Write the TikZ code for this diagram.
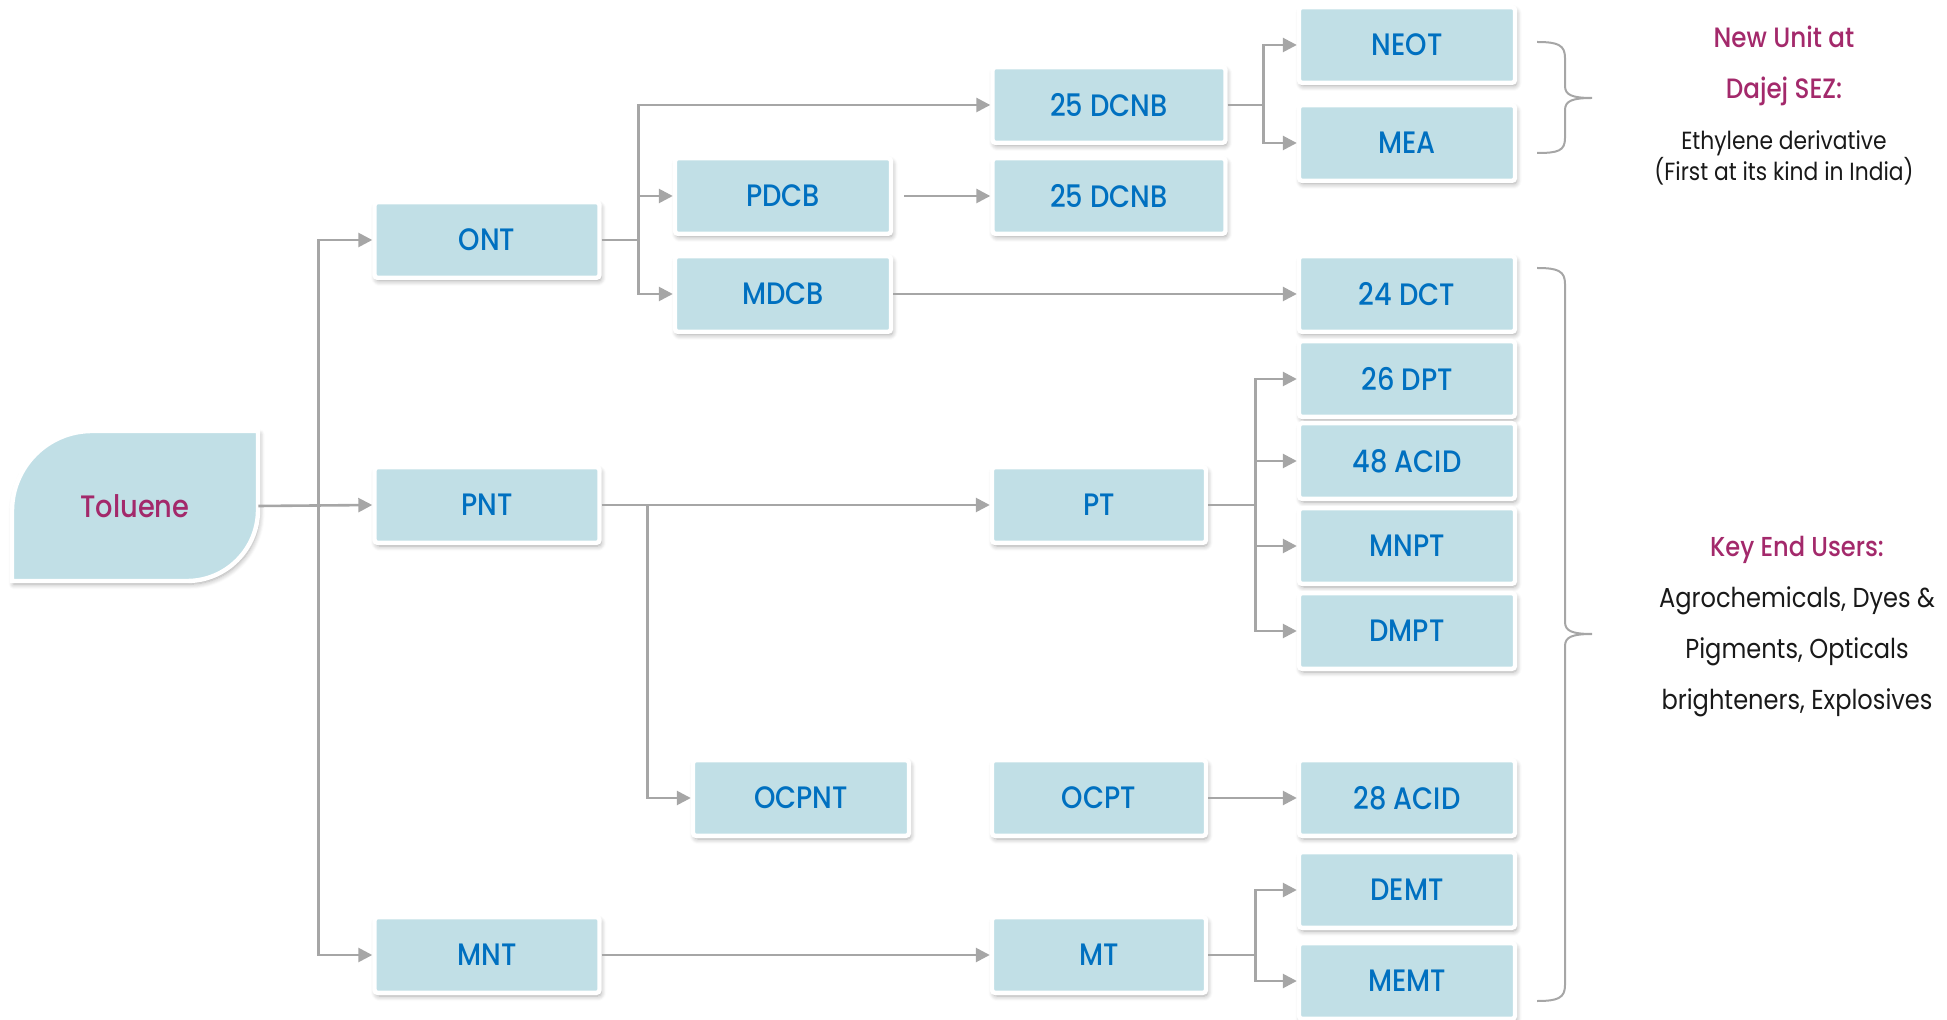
\documentclass[tikz,border=0pt]{standalone}
\usepackage{fontspec}
\setmainfont[FakeStretch=0.88]{Poppins}
\newfontfamily\labelfont[FakeStretch=0.88]{Poppins Medium}
\usepackage{xcolor}
\usetikzlibrary{arrows.meta,positioning,shadows.blur}
\definecolor{boxfill}{HTML}{C1DFE6}
\definecolor{labelblue}{HTML}{0070C0}
\definecolor{accent}{HTML}{A3296B}
\definecolor{linegray}{HTML}{A6A6A6}

\begin{document}
\begin{tikzpicture}[
    x=0.5pt, y=-0.5pt,
    soft/.style={blur shadow={shadow xshift=0.8pt, shadow yshift=-1.6pt, shadow blur radius=2.5pt, shadow blur steps=6, shadow opacity=35}},
    box/.style={draw=white, line width=2.2pt, fill=boxfill, rounded corners=1.5pt, minimum width=108pt, minimum height=37.8pt, inner sep=0pt, text=labelblue, font=\labelfont\fontsize{15.5}{18}\selectfont, soft},
    wide/.style={box, minimum width=112.5pt},
    mid/.style={box, minimum width=107pt},
    arrow/.style={-{Triangle[length=7pt, width=7pt]}, line width=1.3pt, draw=linegray},
    link/.style={line width=1.3pt, draw=linegray},
    brace/.style={line width=1pt, draw=linegray},
    note/.style={align=center, text=black!90, font=\fontsize{12.4}{15.5}\selectfont}
  ]
    \useasboundingbox (0,0) rectangle (1947,1020);
    % source shape
    \path[fill=boxfill, draw=white, line width=2.2pt, soft]
      (12,581) -- (12,511) arc[start angle=180, end angle=90, radius=40pt] -- (258,431)
      -- (258,510) arc[start angle=0, end angle=-90, radius=35.5pt] -- cycle;
    \node[inner sep=0pt, minimum width=123pt, minimum height=75pt, text=accent, font=\labelfont\fontsize{15.5}{18}\selectfont] (toluene) at (135,506) {Toluene};

    \node[wide] (ont) at (487,240) {ONT};
    \node[wide] (pnt) at (487,505) {PNT};
    \node[wide] (mnt) at (487,955) {MNT};
    \node[box, minimum width=116.5pt] (dcnbtop) at (1109,105) {25 DCNB};
    \node[box] (pdcb) at (783,196) {PDCB};
    \node[box, minimum width=116.5pt] (dcnbmid) at (1109,196) {25 DCNB};
    \node[box] (mdcb) at (783,294) {MDCB};
    \node[box] (neot) at (1407,45) {NEOT};
    \node[box] (mea) at (1407,143) {MEA};
    \node[box] (dct) at (1407,294) {24 DCT};
    \node[box] (dpt) at (1407,379) {26 DPT};
    \node[box] (acidfe) at (1407,461) {48 ACID};
    \node[box] (mnpt) at (1407,546) {MNPT};
    \node[box] (dmpt) at (1407,631) {DMPT};
    \node[mid] (pt) at (1099,505) {PT};
    \node[box] (ocpnt) at (801,798) {OCPNT};
    \node[mid] (ocpt) at (1099,798) {OCPT};
    \node[box] (acidte) at (1407,798) {28 ACID};
    \node[mid] (mt) at (1099,955) {MT};
    \node[box] (demt) at (1407,890) {DEMT};
    \node[box] (memt) at (1407,981) {MEMT};

    % junctions
    \coordinate (jt) at ([xshift=30pt]toluene.east);
    \coordinate (jo) at ([xshift=18.5pt]ont.east);
    \coordinate (jd) at ([xshift=18pt]dcnbtop.east);
    \coordinate (jp) at ([xshift=23pt]pnt.east);
    \coordinate (jpt) at ([xshift=23.5pt]pt.east);
    \coordinate (jm) at ([xshift=23.5pt]mt.east);

    \draw[arrow] (toluene.east) -- (pnt.west);
    \draw[arrow] (jt) |- (ont.west);
    \draw[arrow] (jt) |- (mnt.west);
    \draw[link] (ont.east) -- (jo);
    \draw[arrow] (jo) |- (dcnbtop.west);
    \draw[arrow] (jo) |- (pdcb.west);
    \draw[arrow] (jo) |- (mdcb.west);
    \draw[arrow, shorten <=5.5pt] (pdcb.east) -- (dcnbmid.west);
    \draw[arrow] (mdcb.east) -- (dct.west);
    \draw[link] (dcnbtop.east) -- (jd);
    \draw[arrow] (jd) |- (neot.west);
    \draw[arrow] (jd) |- (mea.west);
    \draw[arrow] (pnt.east) -- (pt.west);
    \draw[arrow] (jp) |- (ocpnt.west);
    \draw[link] (pt.east) -- (jpt);
    \draw[arrow] (jpt) |- (dpt.west);
    \draw[arrow] (jpt) |- (acidfe.west);
    \draw[arrow] (jpt) |- (mnpt.west);
    \draw[arrow] (jpt) |- (dmpt.west);
    \draw[arrow] (ocpt.east) -- (acidte.west);
    \draw[arrow] (mnt.east) -- (mt.west);
    \draw[link] (mt.east) -- (jm);
    \draw[arrow] (jm) |- (demt.west);
    \draw[arrow] (jm) |- (memt.west);

    % braces
    \draw[brace] (1537,42) .. controls (1558,42) and (1565,45) .. (1565,58) -- (1565,86)
      .. controls (1565,95) and (1572,98) .. (1592,98) .. controls (1572,98) and (1565,101) .. (1565,110)
      -- (1565,138) .. controls (1565,151) and (1558,153) .. (1537,153);
    \draw[brace] (1537,268) .. controls (1558,268) and (1565,271) .. (1565,284) -- (1565,622)
      .. controls (1565,631) and (1572,634) .. (1592,634) .. controls (1572,634) and (1565,637) .. (1565,646)
      -- (1565,985) .. controls (1565,998) and (1558,1001) .. (1537,1001);

    \node[note, text=accent, font=\labelfont\fontsize{14}{25.5}\selectfont] (newunit) at (1784,66) {New Unit at\\Dajej SEZ:};
    \node[note] (ethylene) at (1784,158) {Ethylene derivative\\(First at its kind in India)};
    \node[note, font=\fontsize{13.7}{25.5}\selectfont] (endusers) at (1797,627) {{\labelfont\color{accent}Key End Users:}\\Agrochemicals, Dyes \&\\Pigments, Opticals\\brighteners, Explosives};
\end{tikzpicture}
\end{document}
